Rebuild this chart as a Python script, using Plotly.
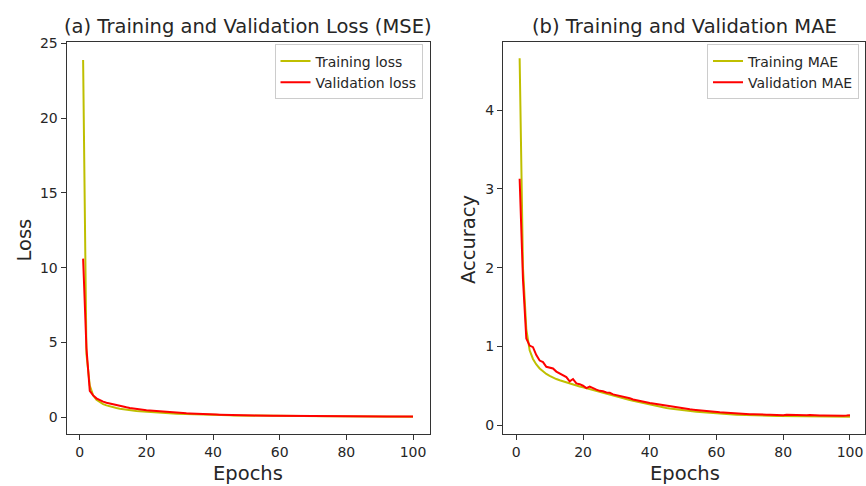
import plotly.graph_objects as go

epochs = list(range(1, 101))

train_loss = [
    23.9, 4.2, 2.1, 1.45, 1.15, 0.98, 0.86, 0.78, 0.71, 0.65,
    0.60, 0.56, 0.52, 0.49, 0.46, 0.43, 0.41, 0.39, 0.37, 0.35,
    0.33, 0.31, 0.30, 0.28, 0.27, 0.26, 0.245, 0.235, 0.225, 0.215,
    0.205, 0.195, 0.185, 0.178, 0.17, 0.163, 0.156, 0.15, 0.144, 0.138,
    0.132, 0.127, 0.122, 0.117, 0.113, 0.109, 0.105, 0.101, 0.097, 0.094,
    0.091, 0.088, 0.085, 0.082, 0.079, 0.077, 0.074, 0.072, 0.070, 0.068,
    0.066, 0.064, 0.062, 0.060, 0.058, 0.057, 0.055, 0.054, 0.052, 0.051,
    0.050, 0.048, 0.047, 0.046, 0.045, 0.044, 0.043, 0.042, 0.041, 0.040,
    0.039, 0.038, 0.037, 0.037, 0.036, 0.035, 0.034, 0.034, 0.033, 0.032,
    0.032, 0.031, 0.031, 0.030, 0.029, 0.029, 0.028, 0.028, 0.027, 0.027,
]

val_loss = [
    10.6, 4.6, 1.75, 1.45, 1.25, 1.12, 1.03, 0.96, 0.90, 0.86,
    0.80, 0.74, 0.69, 0.65, 0.61, 0.57, 0.54, 0.51, 0.48, 0.45,
    0.43, 0.41, 0.39, 0.37, 0.35, 0.335, 0.32, 0.30, 0.29, 0.275,
    0.26, 0.25, 0.24, 0.225, 0.215, 0.205, 0.195, 0.185, 0.177, 0.17,
    0.162, 0.155, 0.148, 0.142, 0.136, 0.13, 0.125, 0.12, 0.115, 0.11,
    0.106, 0.102, 0.098, 0.095, 0.092, 0.089, 0.086, 0.083, 0.081, 0.078,
    0.076, 0.074, 0.072, 0.070, 0.068, 0.066, 0.065, 0.063, 0.062, 0.060,
    0.059, 0.058, 0.057, 0.056, 0.055, 0.054, 0.053, 0.052, 0.051, 0.050,
    0.050, 0.049, 0.048, 0.048, 0.047, 0.046, 0.046, 0.045, 0.045, 0.044,
    0.044, 0.043, 0.043, 0.043, 0.042, 0.042, 0.042, 0.041, 0.041, 0.041,
]

train_mae = [
    4.66, 2.0, 1.22, 0.95, 0.84, 0.77, 0.72, 0.68, 0.65, 0.625,
    0.60, 0.585, 0.57, 0.555, 0.54, 0.53, 0.515, 0.505, 0.49, 0.48,
    0.468, 0.456, 0.444, 0.432, 0.42, 0.408, 0.397, 0.386, 0.375, 0.364,
    0.353, 0.342, 0.331, 0.32, 0.31, 0.30, 0.29, 0.28, 0.27, 0.26,
    0.251, 0.242, 0.234, 0.226, 0.218, 0.211, 0.205, 0.199, 0.193, 0.188,
    0.184, 0.179, 0.175, 0.171, 0.167, 0.163, 0.159, 0.155, 0.151, 0.148,
    0.145, 0.142, 0.140, 0.137, 0.135, 0.133, 0.131, 0.130, 0.128, 0.127,
    0.126, 0.124, 0.123, 0.122, 0.120, 0.119, 0.118, 0.117, 0.117, 0.116,
    0.115, 0.115, 0.114, 0.113, 0.113, 0.112, 0.111, 0.111, 0.110, 0.110,
    0.109, 0.109, 0.108, 0.108, 0.107, 0.107, 0.106, 0.106, 0.105, 0.105,
]

val_mae = [
    3.13, 1.85, 1.10, 1.01, 0.99, 0.89, 0.82, 0.80, 0.74, 0.73,
    0.72, 0.68, 0.66, 0.64, 0.61, 0.555, 0.585, 0.53, 0.52, 0.50,
    0.47, 0.49, 0.465, 0.45, 0.435, 0.43, 0.415, 0.41, 0.39, 0.38,
    0.37, 0.36, 0.355, 0.34, 0.325, 0.315, 0.31, 0.30, 0.29, 0.28,
    0.275, 0.268, 0.26, 0.248, 0.24, 0.238, 0.228, 0.225, 0.22, 0.21,
    0.205, 0.20, 0.195, 0.19, 0.185, 0.188, 0.18, 0.176, 0.172, 0.166,
    0.162, 0.16, 0.156, 0.152, 0.15, 0.146, 0.145, 0.142, 0.14, 0.137,
    0.138, 0.135, 0.14, 0.134, 0.132, 0.133, 0.13, 0.129, 0.128, 0.126,
    0.13, 0.128, 0.127, 0.128, 0.126, 0.125, 0.124, 0.127, 0.123, 0.124,
    0.122, 0.123, 0.121, 0.122, 0.12, 0.121, 0.12, 0.119, 0.121, 0.125,
]

x_ticks = [0, 20, 40, 60, 80, 100]
loss_ticks = [0, 5, 10, 15, 20, 25]
mae_ticks = [0, 1, 2, 3, 4]

W, H = 866, 486
FONT = "DejaVu Sans"
TXT = "#262626"
YEL = "#bfbf00"
RED = "#ff0000"

fig = go.Figure()
fig.add_trace(go.Scatter(x=epochs, y=train_loss, mode="lines", name="Training loss",
                         line=dict(color=YEL, width=2), xaxis="x", yaxis="y", legend="legend"))
fig.add_trace(go.Scatter(x=epochs, y=val_loss, mode="lines", name="Validation loss",
                         line=dict(color=RED, width=2), xaxis="x", yaxis="y", legend="legend"))
fig.add_trace(go.Scatter(x=epochs, y=train_mae, mode="lines", name="Training MAE",
                         line=dict(color=YEL, width=2), xaxis="x2", yaxis="y2", legend="legend2"))
fig.add_trace(go.Scatter(x=epochs, y=val_mae, mode="lines", name="Validation MAE",
                         line=dict(color=RED, width=2), xaxis="x2", yaxis="y2", legend="legend2"))

axis_common = dict(showline=True, mirror=True, linecolor="#333333", linewidth=1.2,
                   ticks="outside", ticklen=5, tickwidth=1.2, tickcolor="#333333",
                   showgrid=False, zeroline=False,
                   tickfont=dict(family=FONT, size=14, color=TXT))

ydom = [1 - 433 / H, 1 - 36 / H]
fig.update_layout(
    width=W, height=H,
    margin=dict(l=0, r=0, t=0, b=0),
    paper_bgcolor="white", plot_bgcolor="white",
    font=dict(family=FONT, color=TXT),
    xaxis=dict(domain=[66.7 / W, 430 / W], range=[-3.95, 104.95], tickvals=x_ticks,
               anchor="y", **axis_common),
    yaxis=dict(domain=ydom, range=[-1.12, 25.07], tickvals=loss_ticks,
               anchor="x", **axis_common),
    xaxis2=dict(domain=[503.7 / W, 1.0], range=[-3.95, 104.5], tickvals=x_ticks,
                anchor="y2", **axis_common),
    yaxis2=dict(domain=ydom, range=[-0.11, 4.86], tickvals=mae_ticks,
                anchor="x2", **axis_common),
    legend=dict(x=423 / W, y=1 - 38 / H, xanchor="right", yanchor="top",
                bgcolor="rgba(255,255,255,0.8)", bordercolor="#cccccc", borderwidth=1,
                font=dict(family=FONT, size=14, color=TXT)),
    legend2=dict(x=860 / W, y=1 - 38 / H, xanchor="right", yanchor="top",
                 bgcolor="rgba(255,255,255,0.8)", bordercolor="#cccccc", borderwidth=1,
                 font=dict(family=FONT, size=14, color=TXT)),
    showlegend=True,
)

ann_font_big = dict(family=FONT, size=19.5, color=TXT)
annotations = [
    dict(text="(a) Training and Validation Loss (MSE)", x=248 / W, y=1 - 20 / H,
         xref="paper", yref="paper", xanchor="center", yanchor="middle",
         showarrow=False, font=ann_font_big),
    dict(text="(b) Training and Validation MAE", x=685.5 / W, y=1 - 20 / H,
         xref="paper", yref="paper", xanchor="center", yanchor="middle",
         showarrow=False, font=ann_font_big),
    dict(text="Epochs", x=248 / W, y=1 - 473 / H, xref="paper", yref="paper",
         xanchor="center", yanchor="middle", showarrow=False, font=ann_font_big),
    dict(text="Epochs", x=685.5 / W, y=1 - 473 / H, xref="paper", yref="paper",
         xanchor="center", yanchor="middle", showarrow=False, font=ann_font_big),
    dict(text="Loss", x=25 / W, y=1 - 236 / H, xref="paper", yref="paper",
         xanchor="center", yanchor="middle", textangle=-90, showarrow=False, font=ann_font_big),
    dict(text="Accuracy", x=469 / W, y=1 - 236 / H, xref="paper", yref="paper",
         xanchor="center", yanchor="middle", textangle=-90, showarrow=False, font=ann_font_big),
]
fig.update_layout(annotations=annotations)

fig.write_html("out.html")
